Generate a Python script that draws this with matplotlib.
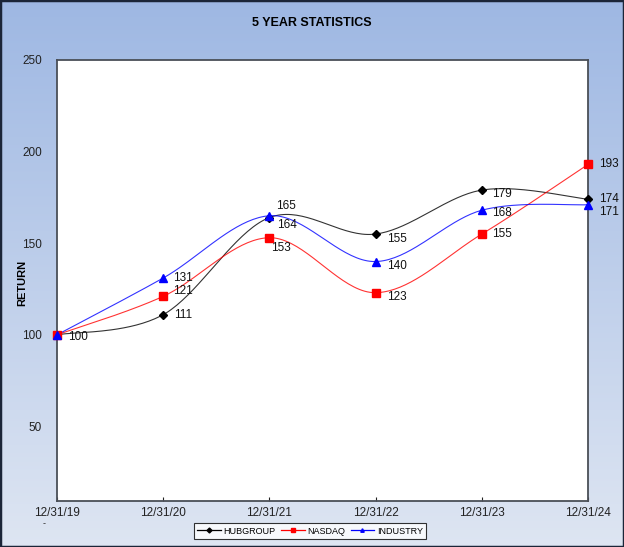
import numpy as np
import matplotlib
matplotlib.use("Agg")
import matplotlib.pyplot as plt
from matplotlib.patches import Rectangle
from matplotlib.transforms import offset_copy

# data
dates = ["12/31/19", "12/31/20", "12/31/21", "12/31/22", "12/31/23", "12/31/24"]
hubgroup = [100, 111, 164, 155, 179, 174]
nasdaq = [100, 121, 153, 123, 155, 193]
industry = [100, 131, 165, 140, 168, 171]

# per-label nudges in pixels (dx, dy), None = no label
hub_off = [(11, -2), (11, 0), (8, -7), (11, -5), (10, -4), (11, 0)]
nas_off = [None, (10, 5), (2, -10), (11, -4), (10, 0), (11, 0)]
ind_off = [None, (10, 0), (7, 10), (11, -4), (10, -3), (11, -7)]

NUM_FONT = ["Liberation Sans", "DejaVu Sans"]
TICK_FONT = ["Liberation Sans Narrow", "Liberation Sans", "DejaVu Sans"]


def smooth(x, y, n=40):
    """Excel-like smoothed line: cubic Bezier with Catmull-Rom controls."""
    p = np.column_stack([x, y]).astype(float)
    ext = np.vstack([p[0], p, p[-1]])
    xs, ys = [], []
    t = np.linspace(0, 1, n)[:, None]
    for i in range(len(p) - 1):
        p0, p1 = ext[i + 1], ext[i + 2]
        c1 = p0 + (ext[i + 2] - ext[i]) / 6
        c2 = p1 - (ext[i + 3] - ext[i + 1]) / 6
        seg = ((1 - t) ** 3) * p0 + 3 * ((1 - t) ** 2) * t * c1 \
            + 3 * (1 - t) * t ** 2 * c2 + t ** 3 * p1
        xs.append(seg[:, 0])
        ys.append(seg[:, 1])
    return np.concatenate(xs), np.concatenate(ys)


fig = plt.figure(figsize=(6.24, 5.47), dpi=100)

# gradient background
bg = fig.add_axes([0, 0, 1, 1], zorder=-10)
grad = np.linspace(0, 1, 256)[:, None]
top = np.array([0.62, 0.72, 0.89])
bot = np.array([0.87, 0.90, 0.95])
img = top[None, None, :] * (1 - grad[:, :, None]) + bot[None, None, :] * grad[:, :, None]
bg.imshow(img, aspect="auto", extent=[0, 1, 0, 1])
bg.add_patch(Rectangle((0, 0), 1, 1, fill=False, edgecolor="#1b2538",
                       lw=2.5, transform=bg.transAxes))
bg.axis("off")

ax = fig.add_axes([57 / 624, 46 / 547, 531 / 624, 441 / 547])
ax.set_facecolor("white")
x = np.arange(len(dates))

series = [
    ("HUBGROUP", hubgroup, "black", "D", 4.5, hub_off),
    ("NASDAQ", nasdaq, "#ff0000", "s", 5.5, nas_off),
    ("INDUSTRY", industry, "#0000ff", "^", 6, ind_off),
]
for name, vals, col, mk, ms, offs in series:
    sx, sy = smooth(x, vals)
    ax.plot(sx, sy, color=col, lw=0.8, alpha=0.8, zorder=2, clip_on=False)
    ax.plot(x, vals, ls="none", marker=mk, ms=ms, color=col, zorder=3,
            clip_on=False)
    for i, (v, o) in enumerate(zip(vals, offs)):
        if o is None:
            continue
        tr = offset_copy(ax.transData, fig=fig, x=o[0], y=o[1], units="dots")
        ax.text(x[i], v, str(v), transform=tr, ha="left", va="center",
                fontsize=8.5, family=NUM_FONT, color="#111111", zorder=4,
                clip_on=False)

# legend proxies
handles = [plt.Line2D([], [], color=c, marker=m, ms=2.5, lw=0.9)
           for _, _, c, m, _, _ in series]
leg = fig.legend(handles, [s[0] for s in series], loc="center",
                 bbox_to_anchor=(310 / 624, 1 - 531 / 547), ncol=3,
                 frameon=True, fancybox=False, handlelength=2.6,
                 columnspacing=0.6, handletextpad=0.3, borderpad=0.35,
                 prop={"family": TICK_FONT, "size": 6.5})
leg.get_frame().set_edgecolor("black")
leg.get_frame().set_linewidth(0.8)

ax.set_xlim(0, len(dates) - 1)
ax.set_ylim(9.3, 250)
ax.set_xticks(x)
ax.set_xticklabels(dates, family=TICK_FONT, fontsize=8.5)
ax.set_yticks([50, 100, 150, 200, 250])
ax.set_yticklabels(["50", "100", "150", "200", "250"], family=TICK_FONT,
                   fontsize=8.5)
ax.tick_params(axis="x", direction="in", length=3, pad=4, colors="#222222")
ax.tick_params(axis="y", length=0, pad=11, colors="#222222")
for sp in ax.spines.values():
    sp.set_color("#4a4f57")
    sp.set_linewidth(1.3)

# stray zero label of the value axis, shown as a dash
fig.text(44 / 624, 1 - 524 / 547, "-", ha="center", va="center",
         fontsize=6, color="#333333")
fig.text(22 / 624, 1 - 283 / 547, "RETURN", rotation=90, ha="center",
         va="center", fontsize=8, fontweight="bold", family=NUM_FONT)
fig.text(312 / 624, 1 - 23 / 547, "5 YEAR STATISTICS", ha="center",
         va="center", fontsize=9, fontweight="bold", family=NUM_FONT)

fig.savefig("out.png", dpi=100)
